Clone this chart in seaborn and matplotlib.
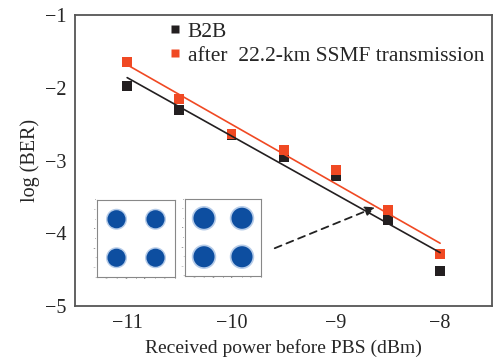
import numpy as np
import pandas as pd
import seaborn as sns
import matplotlib
matplotlib.use('Agg')
from matplotlib import pyplot as plt

power = [-11, -10.5, -10, -9.5, -9, -8.5, -8]
ber_b2b = [-1.98, -2.30, -2.65, -2.95, -3.22, -3.82, -4.52]
ber_ssmf = [-1.65, -2.15, -2.63, -2.85, -3.13, -3.68, -4.28]
labels = ['B2B', 'after  22.2-km SSMF transmission']
colors = ['#231f20', '#f04923']

# constellation cluster centres for the two insets
const_i = [-1, 1, -1, 1]
const_q = [1, 1, -1, -1]

sns.set_theme(style='white')
plt.rcParams['font.family'] = ['Liberation Serif', 'DejaVu Serif']

fig = plt.figure(figsize=(4.95, 3.6), dpi=100)
ax = fig.add_axes([0.1515, 0.15, 0.843, 0.808])

df = pd.DataFrame({'power': power * 2,
                   'ber': ber_b2b + ber_ssmf,
                   'case': [labels[0]] * 7 + [labels[1]] * 7})

for lab, col in zip(labels, colors):
    sub = df[df['case'] == lab]
    k, b = np.polyfit(sub['power'], sub['ber'], 1)
    fit = pd.DataFrame({'power': [power[0], power[-1]]})
    fit['ber'] = k * fit['power'] + b
    sns.lineplot(data=fit, x='power', y='ber', color=col, lw=1.2, ax=ax, legend=False)

sns.scatterplot(data=df, x='power', y='ber', hue='case', palette=colors, marker='s',
                s=50, edgecolor='none', ax=ax)

ax.set_xlim(-11.5, -7.5)
ax.set_ylim(-5, -1)
ax.set_xticks([-11, -10, -9, -8])
ax.set_yticks([-5, -4, -3, -2, -1])
ax.set_xticklabels(['\u221211', '\u221210', '\u22129', '\u22128'])
ax.set_yticklabels(['\u22125', '\u22124', '\u22123', '\u22122', '\u22121'])
ax.tick_params(direction='in', length=5, width=1.2, color='#555555', labelsize=14.5, pad=6)
for sp in ax.spines.values():
    sp.set_color('#555555')
    sp.set_linewidth(1.3)
ax.set_xlabel('Received power before PBS (dBm)', fontsize=14, labelpad=4)
ax.set_ylabel('log (BER)', fontsize=14.5, labelpad=4)

leg = ax.legend(loc='upper left', bbox_to_anchor=(0.18, 1.03), frameon=False, fontsize=15.5,
                handletextpad=0.15, labelspacing=0.2, borderpad=0.2, handlelength=0.9,
                markerscale=0.8)

ax.annotate('', xy=(-8.6, -3.63), xytext=(-9.61, -4.22),
            arrowprops=dict(arrowstyle='-|>', color='#222222', lw=1.3, ls=(0, (4, 3)),
                            mutation_scale=14))

# constellation insets
for pos, size in [([97 / 495, 1 - 277 / 360, 78 / 495, 77 / 360], 170),
                  ([185 / 495, 1 - 276 / 360, 76 / 495, 77 / 360], 230)]:
    ins = fig.add_axes(pos)
    ins.scatter(const_i, const_q, s=size * 1.35, color='#6f9bd4', alpha=0.5, edgecolor='none')
    ins.scatter(const_i, const_q, s=size, color='#0d4ea0', edgecolor='none')
    ins.set_xlim(-2, 2)
    ins.set_ylim(-2, 2)
    ticks = np.arange(-2, 2.01, 0.5)
    ins.set_xticks(ticks)
    ins.set_yticks(ticks)
    ins.set_xticklabels([''] + ['%g' % t for t in ticks[1:]])
    ins.set_yticklabels(['%g' % t for t in ticks])
    ins.tick_params(direction='in', length=1.5, width=0.5, labelsize=1.5, pad=0.5, color='#777777')
    for sp in ins.spines.values():
        sp.set_color('#888888')
        sp.set_linewidth(0.8)

fig.savefig('out.png', dpi=100)
